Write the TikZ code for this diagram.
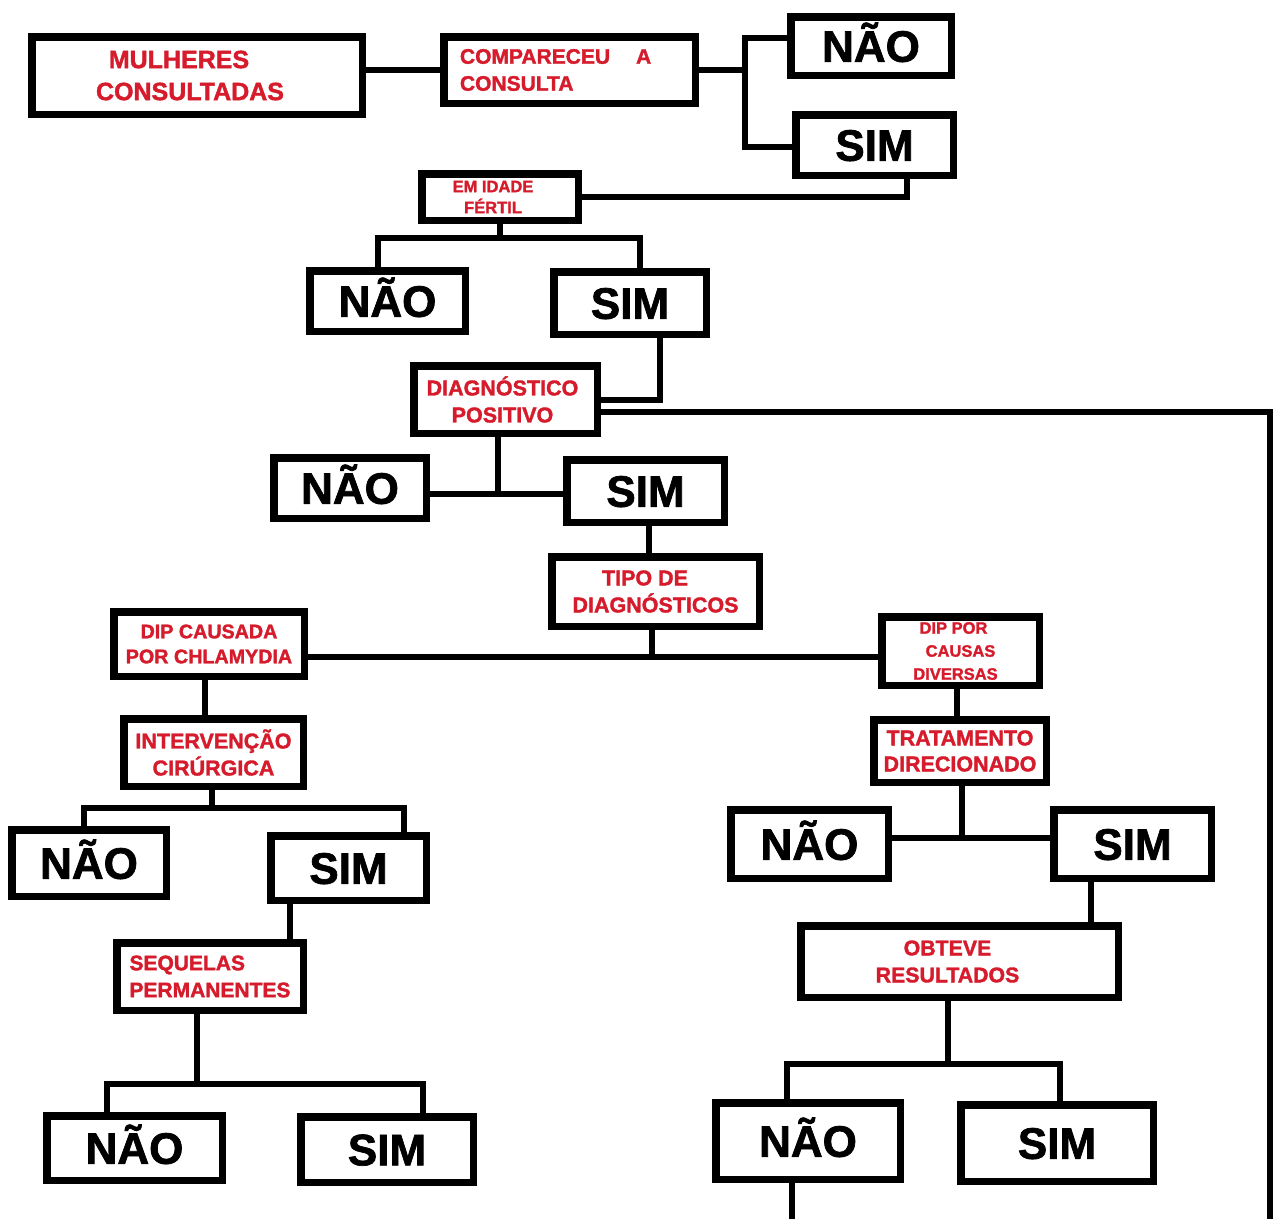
\documentclass[tikz,border=0pt]{standalone}
\usepackage{fontspec}
\setmainfont{Liberation Sans}[BoldFeatures={FakeBold=1.6}]
\definecolor{lblred}{RGB}{214,28,44}
\newcommand\lblfont[2]{\fontsize{#1}{#2}\selectfont\bfseries}
\begin{document}
\begin{tikzpicture}[x=1pt,y=-1pt,
  flowbox/.style={draw=black, line width=7.5pt, fill=white, inner sep=0pt, align=center},
  yn/.style={flowbox, font=\lblfont{44}{44}, text height=31.5pt, text depth=0pt},
  lbl/.style={flowbox, text=lblred},
  link/.style={line width=6pt}]
\fill[white] (0,0) rectangle (1278,1219);
\useasboundingbox (0,0) rectangle (1278,1219);
\clip (0,0) rectangle (1278,1219);

% ---- boxes ----
\node[lbl, minimum width=330.5pt, minimum height=77.5pt, font=\lblfont{25}{32}] (mul) at (197,75.5) {MULHERES\hspace*{36pt}\\CONSULTADAS\hspace*{14pt}};
\node[lbl, minimum width=251.5pt, minimum height=66.5pt, font=\lblfont{21}{27}, text width=219pt, align=left] (comp) at (569.5,70) {COMPARECEU\hspace{26pt}A\\CONSULTA};
\node[yn, minimum width=160.5pt, minimum height=58.5pt] (nao1) at (871,46) {NÃO};
\node[yn, minimum width=157.5pt, minimum height=60.5pt] (sim1) at (874.5,145) {SIM};
\node[lbl, minimum width=156.5pt, minimum height=46.5pt, font=\lblfont{16.5}{21}] (idade) at (500,197) {EM IDADE\hspace*{14pt}\\FÉRTIL\hspace*{14pt}};
\node[yn, minimum width=155.5pt, minimum height=60.5pt] (nao2) at (387.5,301) {NÃO};
\node[yn, minimum width=152.5pt, minimum height=62.5pt] (sim2) at (630,303) {SIM};
\node[lbl, minimum width=183.5pt, minimum height=67.5pt, font=\lblfont{21.5}{27}] (diag) at (505.5,399.5) {DIAGNÓSTICO\hspace*{6pt}\\POSITIVO\hspace*{6pt}};
\node[yn, minimum width=152.5pt, minimum height=60.5pt] (nao3) at (350,488) {NÃO};
\node[yn, minimum width=157.5pt, minimum height=62.5pt] (sim3) at (645.5,491) {SIM};
\node[lbl, minimum width=207.5pt, minimum height=69.5pt, font=\lblfont{21.5}{27}] (tipo) at (655.5,591.5) {TIPO DE\hspace*{21pt}\\DIAGNÓSTICOS};
\node[lbl, minimum width=190.5pt, minimum height=64.5pt, font=\lblfont{19.7}{25}] (chl) at (209,644) {DIP CAUSADA\\POR CHLAMYDIA};
\node[lbl, minimum width=157.5pt, minimum height=68.5pt, font=\lblfont{16.5}{23}] (div) at (960.5,651) {DIP POR\hspace*{14pt}\\CAUSAS\hspace*{14pt}\\DIVERSAS\hspace*{10pt}};
\node[lbl, minimum width=179.5pt, minimum height=67.5pt, font=\lblfont{21.5}{27}] (int) at (213.5,752.5) {INTERVENÇÃO\\CIRÚRGICA};
\node[yn, minimum width=154.5pt, minimum height=66.5pt] (nao4) at (89,863) {NÃO};
\node[yn, minimum width=155.5pt, minimum height=64.5pt] (sim4) at (348.5,868) {SIM};
\node[lbl, minimum width=186.5pt, minimum height=67.5pt, font=\lblfont{21}{27}, align=left] (seq) at (210,976.5) {SEQUELAS\\PERMANENTES};
\node[yn, minimum width=175.5pt, minimum height=64.5pt] (nao5) at (134.5,1148) {NÃO};
\node[yn, minimum width=172.5pt, minimum height=65.5pt] (sim5) at (387,1149.5) {SIM};
\node[lbl, minimum width=172.5pt, minimum height=62.5pt, font=\lblfont{21.5}{26}] (trat) at (960,751) {TRATAMENTO\\DIRECIONADO};
\node[yn, minimum width=157.5pt, minimum height=68.5pt] (nao6) at (809.5,844) {NÃO};
\node[yn, minimum width=157.5pt, minimum height=68.5pt] (sim6) at (1132.5,844) {SIM};
\node[lbl, minimum width=317.5pt, minimum height=71.5pt, font=\lblfont{21.3}{27}] (obt) at (959.5,961.5) {OBTEVE\hspace*{24pt}\\RESULTADOS\hspace*{24pt}};
\node[yn, minimum width=184.5pt, minimum height=76.5pt] (nao7) at (808,1141) {NÃO};
\node[yn, minimum width=192.5pt, minimum height=76.5pt] (sim7) at (1057,1143) {SIM};

% ---- helper coordinates ----
\coordinate (j1) at (745,70);
\coordinate (b1) at (745,38);
\coordinate (b2) at (745,147);
\coordinate (s1b) at ([xshift=32.5pt]sim1.south);
\coordinate (n2t) at ([xshift=-9.5pt]nao2.north);
\coordinate (s2t) at ([xshift=10pt]sim2.north);
\coordinate (s2b) at ([xshift=30pt]sim2.south);
\coordinate (dgb) at ([xshift=-7.5pt]diag.south);
\coordinate (dge) at ([yshift=-12.5pt]diag.east);
\coordinate (s3b) at ([xshift=3.5pt]sim3.south);
\coordinate (tpb) at ([xshift=-3.5pt]tipo.south);
\coordinate (chb) at ([xshift=-4pt]chl.south);
\coordinate (inb) at ([xshift=-1.5pt]int.south);
\coordinate (n4t) at ([xshift=-5pt]nao4.north);
\coordinate (s4t) at ([xshift=55.5pt]sim4.north);
\coordinate (s4b) at ([xshift=-58.5pt]sim4.south);
\coordinate (sqb) at ([xshift=-13pt]seq.south);
\coordinate (n5t) at ([xshift=-27.5pt]nao5.north);
\coordinate (s5t) at ([xshift=36pt]sim5.north);
\coordinate (dvb) at ([xshift=-3.5pt]div.south);
\coordinate (trb) at ([xshift=2pt]trat.south);
\coordinate (s6b) at ([xshift=-41.5pt]sim6.south);
\coordinate (obb) at ([xshift=-11.5pt]obt.south);
\coordinate (n7t) at ([xshift=-21pt]nao7.north);
\coordinate (s7t) at ([xshift=3pt]sim7.north);
\coordinate (n7b) at ([xshift=-16pt]nao7.south);
\coordinate (lp1) at (792,1235);
\coordinate (lp2) at (1270,1235);
\coordinate (lp3) at (1270,412);

% ---- connectors ----
\draw[link] (mul.east |- comp.west) -- (comp.west);
\draw[link] (comp.east) -- (j1);
\draw[link] (nao1.west |- b1) -- (b1) -- (b2) -- (sim1.west |- b2);
\draw[link] (s1b) |- (idade.east);
\draw[link] (idade.south) -- (idade.south |- 0,238);
\draw[link] (n2t) -- (n2t |- 0,238) -- (s2t |- 0,238) -- (s2t);
\draw[link] (s2b) |- (diag.east);
\draw[link] (dge) -- (lp3) -- (lp2) -- (lp1) -- (n7b);
\draw[link] (dgb) -- (dgb |- 0,494);
\draw[link] (nao3.east |- 0,494) -- (sim3.west |- 0,494);
\draw[link] (s3b) -- (s3b |- tipo.north);
\draw[link] (tpb) -- (tpb |- 0,657);
\draw[link] (chl.east |- 0,657) -- (div.west |- 0,657);
\draw[link] (chb) -- (chb |- int.north);
\draw[link] (inb) -- (inb |- 0,808);
\draw[link] (n4t) -- (n4t |- 0,808) -- (s4t |- 0,808) -- (s4t);
\draw[link] (s4b) -- (s4b |- seq.north);
\draw[link] (sqb) -- (sqb |- 0,1084);
\draw[link] (n5t) -- (n5t |- 0,1084) -- (s5t |- 0,1084) -- (s5t);
\draw[link] (dvb) -- (dvb |- trat.north);
\draw[link] (trb) -- (trb |- 0,838);
\draw[link] (nao6.east |- 0,838) -- (sim6.west |- 0,838);
\draw[link] (s6b) -- (s6b |- obt.north);
\draw[link] (obb) -- (obb |- 0,1064);
\draw[link] (n7t) -- (n7t |- 0,1064) -- (s7t |- 0,1064) -- (s7t);
\end{tikzpicture}
\end{document}
